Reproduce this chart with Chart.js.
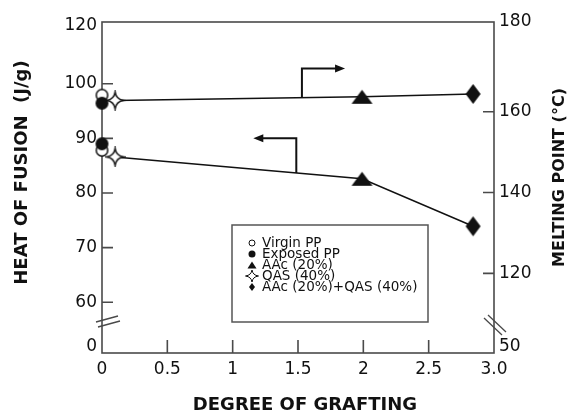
<!DOCTYPE html>
<html lang="en">
<head>
<meta charset="UTF-8">
<title>Heat of fusion and melting point vs degree of grafting</title>
<script src="https://cdn.jsdelivr.net/npm/chart.js"></script>
<style>
  body { margin: 0; background: #fff; }
  #wrap { width: 574px; height: 414px; }
</style>
</head>
<body>
<div id="wrap"><canvas id="graftChart" width="574" height="414"></canvas></div>
<script>
// samples in legend order
const samples = ['Virgin PP', 'Exposed PP', 'AAc (20%)', 'QAS (40%)', 'AAc (20%)+QAS (40%)'];
const grafting = [0, 0, 1.99, 0.1, 2.84];
const heatOfFusion = [87.8, 89.0, 82.6, 86.6, 73.9];      // J/g  -> left axis
const meltingPoint = [164.1, 162.1, 163.7, 162.8, 164.4]; // degC -> right axis

// ticks; both y axes are broken between the origin label and the first tick
const xTicks = [0, 0.5, 1, 1.5, 2, 2.5, 3];
const xTickLabels = ['0', '0.5', '1', '1.5', '2', '2.5', '3.0'];
const heatTicks = [60, 70, 80, 90, 100];
const meltTicks = [120, 140, 160];
const heatRange = [50.7, 111.3];
const meltRange = [100.3, 182.2];
const heatEndLabels = ['0', '120'];
const meltEndLabels = ['50', '180'];

// marker look for each sample
const markerKinds = ['open', 'filled', 'triangle', 'sparkle', 'diamond'];
const plotMarkerSize = { open: [13, 13], filled: [13, 13], triangle: [21, 14], sparkle: [17, 17], diamond: [15, 20] };
const legendMarkerSize = { open: [7, 7], filled: [7, 7], triangle: [9, 7], sparkle: [13, 12], diamond: [6, 8] };

// the two direction arrows telling which axis a curve belongs to
const arrowSpecs = [
  { axis: 'y1', x: 1.53, top: 170.7, tipX: 1.86 },
  { axis: 'y', x: 1.487, top: 90.0, tipX: 1.158 }
];

const INK = '#111';
const AXIS = '#4a4a4a';
const tickFont = { family: 'DejaVu Sans', size: 17 };

function drawShape(g, kind, w, h, lw) {
  const rx = w / 2, ry = h / 2;
  g.beginPath();
  if (kind === 'open') {
    g.ellipse(0, 0, rx - lw / 2, ry - lw / 2, 0, 0, Math.PI * 2);
  } else if (kind === 'filled') {
    g.ellipse(0, 0, rx, ry, 0, 0, Math.PI * 2);
  } else if (kind === 'triangle') {
    g.moveTo(0, -ry); g.lineTo(rx, ry); g.lineTo(-rx, ry); g.closePath();
  } else if (kind === 'diamond') {
    g.moveTo(0, -ry); g.lineTo(rx, 0); g.lineTo(0, ry); g.lineTo(-rx, 0); g.closePath();
  } else if (kind === 'sparkle') {
    const k = 0.12;
    g.moveTo(0, -ry);
    g.quadraticCurveTo(rx * k, -ry * k, rx, 0);
    g.quadraticCurveTo(rx * k, ry * k, 0, ry);
    g.quadraticCurveTo(-rx * k, ry * k, -rx, 0);
    g.quadraticCurveTo(-rx * k, -ry * k, 0, -ry);
    g.closePath();
  }
  if (kind === 'open' || kind === 'sparkle') {
    g.fillStyle = '#fff'; g.fill();
    g.lineWidth = lw; g.strokeStyle = INK; g.stroke();
  } else {
    g.fillStyle = INK; g.fill();
  }
}

function markerCanvas(kind, size, lw) {
  const c = document.createElement('canvas');
  c.width = size[0] + 4;
  c.height = size[1] + 4;
  const g = c.getContext('2d');
  g.translate(c.width / 2, c.height / 2);
  drawShape(g, kind, size[0], size[1], lw);
  return c;
}

const plotMarkers = markerKinds.map(k => markerCanvas(k, plotMarkerSize[k], 1.5));

function points(values) {
  return grafting.map((x, i) => ({ x, y: values[i] }));
}

// connecting line goes through the grafted samples only
function graftedLine(values) {
  return grafting.map((x, i) => ({ x, y: values[i] }))
    .filter(p => p.x > 0)
    .sort((a, b) => a.x - b.x);
}

function valueOnLine(line, x) {
  for (let i = 1; i < line.length; i++) {
    const a = line[i - 1], b = line[i];
    if (x <= b.x) return a.y + (b.y - a.y) * (x - a.x) / (b.x - a.x);
  }
  return line[line.length - 1].y;
}

const heatLine = graftedLine(heatOfFusion);
const meltLine = graftedLine(meltingPoint);

function yAxis(position, range, inner, ends, width, bottomNudge, topNudge) {
  const vals = [range[0] + bottomNudge, ...inner, range[1] - topNudge];
  const labels = [ends[0], ...inner.map(String), ends[1]];
  return {
    type: 'linear',
    position,
    min: range[0],
    max: range[1],
    afterBuildTicks: s => { s.ticks = vals.map(v => ({ value: v })); },
    afterFit: s => { s.width = width; },
    ticks: { autoSkip: false, padding: 5, color: INK, font: tickFont, callback: (v, i) => labels[i] },
    grid: { display: false, drawTicks: false },
    border: { display: false }
  };
}

// frame, inward tick marks and the axis break marks
const frame = {
  id: 'frame',
  beforeDatasetsDraw(chart) {
    const { ctx, chartArea: a, scales } = chart;
    ctx.save();
    ctx.strokeStyle = AXIS;
    ctx.lineWidth = 1.6;
    ctx.strokeRect(a.left, a.top, a.right - a.left, a.bottom - a.top);
    ctx.beginPath();
    xTicks.slice(1, -1).forEach(v => {
      const px = scales.x.getPixelForValue(v);
      ctx.moveTo(px, a.bottom); ctx.lineTo(px, a.bottom - 13);
    });
    heatTicks.forEach(v => {
      const py = scales.y.getPixelForValue(v);
      ctx.moveTo(a.left, py); ctx.lineTo(a.left + 11, py);
    });
    meltTicks.forEach(v => {
      const py = scales.y1.getPixelForValue(v);
      ctx.moveTo(a.right, py); ctx.lineTo(a.right - 11, py);
    });
    ctx.stroke();
    ctx.beginPath();
    ctx.lineWidth = 1.3;
    ctx.moveTo(a.left - 6, a.bottom - 31); ctx.lineTo(a.left + 16, a.bottom - 37);
    ctx.moveTo(a.left - 4, a.bottom - 26); ctx.lineTo(a.left + 18, a.bottom - 32);
    ctx.moveTo(a.right - 10, a.bottom - 35); ctx.lineTo(a.right + 8, a.bottom - 18);
    ctx.moveTo(a.right - 6, a.bottom - 38); ctx.lineTo(a.right + 12, a.bottom - 21);
    ctx.stroke();
    ctx.restore();
  }
};

const arrows = {
  id: 'arrows',
  afterDatasetsDraw(chart) {
    const { ctx, scales } = chart;
    ctx.save();
    ctx.strokeStyle = INK;
    ctx.fillStyle = INK;
    ctx.lineWidth = 2;
    arrowSpecs.forEach(sp => {
      const ys = scales[sp.axis];
      const line = sp.axis === 'y' ? heatLine : meltLine;
      const x0 = scales.x.getPixelForValue(sp.x);
      const y0 = ys.getPixelForValue(valueOnLine(line, sp.x));
      const y1 = ys.getPixelForValue(sp.top);
      const tip = scales.x.getPixelForValue(sp.tipX);
      const dir = Math.sign(tip - x0);
      ctx.beginPath();
      ctx.moveTo(x0, y0); ctx.lineTo(x0, y1); ctx.lineTo(tip - dir * 8, y1);
      ctx.stroke();
      ctx.beginPath();
      ctx.moveTo(tip, y1);
      ctx.lineTo(tip - dir * 10, y1 - 4);
      ctx.lineTo(tip - dir * 10, y1 + 4);
      ctx.closePath();
      ctx.fill();
    });
    ctx.restore();
  }
};

const legendBox = {
  id: 'legendBox',
  afterDraw(chart) {
    const { ctx, chartArea: a } = chart;
    const left = a.left + 130, top = a.top + 203, w = 196, h = 97;
    ctx.save();
    ctx.fillStyle = '#fff';
    ctx.fillRect(left, top, w, h);
    ctx.strokeStyle = '#555';
    ctx.lineWidth = 1.5;
    ctx.strokeRect(left, top, w, h);
    ctx.font = '13.5px "DejaVu Sans"';
    ctx.textBaseline = 'middle';
    samples.forEach((name, i) => {
      const y = top + 18 + i * 11;
      const kind = markerKinds[i];
      ctx.save();
      ctx.translate(left + 20, y);
      drawShape(ctx, kind, legendMarkerSize[kind][0], legendMarkerSize[kind][1], 1);
      ctx.restore();
      ctx.fillStyle = INK;
      ctx.fillText(name, left + 30, y);
    });
    ctx.restore();
  }
};

const axisTitles = {
  id: 'axisTitles',
  afterDraw(chart) {
    const { ctx, chartArea: a } = chart;
    const midY = (a.top + a.bottom) / 2;
    ctx.save();
    ctx.fillStyle = INK;
    ctx.textAlign = 'center';
    ctx.textBaseline = 'middle';
    ctx.font = 'bold 18px "DejaVu Sans"';
    ctx.fillText('DEGREE OF GRAFTING', (a.left + a.right) / 2 + 7, a.bottom + 52);
    ctx.save();
    ctx.translate(a.left - 80, midY - 15);
    ctx.rotate(-Math.PI / 2);
    ctx.fillText('HEAT OF FUSION  (J/g)', 0, 0);
    ctx.restore();
    ctx.font = 'bold 16px "DejaVu Sans"';
    ctx.translate(a.right + 66, midY - 10);
    ctx.rotate(-Math.PI / 2);
    ctx.fillText('MELTING POINT (°C)', 0, 0);
    ctx.restore();
  }
};

new Chart(document.getElementById('graftChart'), {
  type: 'scatter',
  data: {
    datasets: [
      { label: 'Heat of fusion', data: points(heatOfFusion), yAxisID: 'y',
        pointStyle: plotMarkers, pointRadius: 7, clip: false },
      { label: 'Melting point', data: points(meltingPoint), yAxisID: 'y1',
        pointStyle: plotMarkers, pointRadius: 7, clip: false },
      { label: 'Heat of fusion trend', data: heatLine, yAxisID: 'y', showLine: true,
        pointRadius: 0, borderColor: INK, borderWidth: 1.5, clip: false },
      { label: 'Melting point trend', data: meltLine, yAxisID: 'y1', showLine: true,
        pointRadius: 0, borderColor: INK, borderWidth: 1.5, clip: false }
    ]
  },
  options: {
    responsive: false,
    devicePixelRatio: 1,
    animation: false,
    layout: { padding: { top: 22, left: 0, right: 0, bottom: 0 } },
    plugins: { legend: { display: false }, tooltip: { enabled: false } },
    scales: {
      x: {
        type: 'linear',
        min: 0,
        max: 3,
        afterBuildTicks: s => { s.ticks = xTicks.map(v => ({ value: v })); },
        afterFit: s => { s.height = 61; },
        ticks: { autoSkip: false, maxRotation: 0, padding: 6, color: INK, font: tickFont,
                 callback: (v, i) => xTickLabels[i] },
        grid: { display: false, drawTicks: false },
        border: { display: false }
      },
      y: yAxis('left', heatRange, heatTicks, heatEndLabels, 102, 1.1, 0.7),
      y1: yAxis('right', meltRange, meltTicks, meltEndLabels, 80, 1.5, 0)
    }
  },
  plugins: [frame, arrows, legendBox, axisTitles]
});
</script>
</body>
</html>
